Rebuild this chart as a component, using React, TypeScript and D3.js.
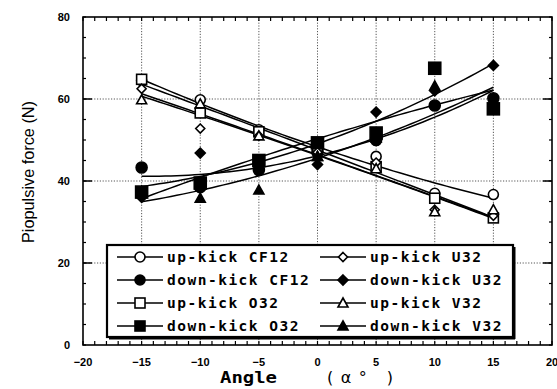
import React from "react";
import * as d3 from "d3";

// Kick angle (deg) and measured propulsive force (N) for each fin / kick direction
const angles = [-15, -10, -5, 0, 5, 10, 15];
const upKickCF12 = [64.5, 59.8, 52.5, 48, 46, 37, 36.7];
const upKickU32 = [62.5, 52.8, 51, 47, 44.5, 33, 31.5];
const upKickO32 = [64.8, 56.6, 52, 48.5, 43.5, 35.8, 31];
const upKickV32 = [59.8, 58.8, 51, 46, 43, 32.5, 33];
const downKickCF12 = [43.3, 38.5, 42.7, 47, 50, 58.4, 60.2];
const downKickU32 = [36, 46.8, 44, 44, 56.8, 62, 68.2];
const downKickO32 = [37.3, 39.5, 45, 49.3, 51.7, 67.5, 57.6];
const downKickV32 = [37.5, 35.8, 37.8, 46, 50.5, 63.2, 58.5];

const xTicks = [-20, -15, -10, -5, 0, 5, 10, 15, 20];
const yTicks = [0, 20, 40, 60, 80];

type Marker = "circle" | "diamond" | "square" | "triangle";
interface Series {
  name: string;
  values: number[];
  marker: Marker;
  filled: boolean;
  size: number;
}

const series: Series[] = [
  { name: "up-kick CF12", values: upKickCF12, marker: "circle", filled: false, size: 10 },
  { name: "down-kick CF12", values: downKickCF12, marker: "circle", filled: true, size: 11 },
  { name: "up-kick O32", values: upKickO32, marker: "square", filled: false, size: 10 },
  { name: "down-kick O32", values: downKickO32, marker: "square", filled: true, size: 12 },
  { name: "up-kick U32", values: upKickU32, marker: "diamond", filled: false, size: 9 },
  { name: "down-kick U32", values: downKickU32, marker: "diamond", filled: true, size: 10 },
  { name: "up-kick V32", values: upKickV32, marker: "triangle", filled: false, size: 10 },
  { name: "down-kick V32", values: downKickV32, marker: "triangle", filled: true, size: 10 },
];

// Legend order: two columns, four rows
const legendLeft = ["up-kick CF12", "down-kick CF12", "up-kick O32", "down-kick O32"];
const legendRight = ["up-kick U32", "down-kick U32", "up-kick V32", "down-kick V32"];

const W = 557;
const H = 389;
const x = d3.scaleLinear().domain([-20, 20]).range([83, 552]);
const y = d3.scaleLinear().domain([0, 80]).range([345, 17]);

// Second-order least-squares fit y = a + b x + c x^2
function quadFit(xs: number[], ys: number[]) {
  const n = xs.length;
  let s1 = 0, s2 = 0, s3 = 0, s4 = 0, t0 = 0, t1 = 0, t2 = 0;
  for (let i = 0; i < n; i++) {
    const xi = xs[i], yi = ys[i];
    s1 += xi; s2 += xi * xi; s3 += xi ** 3; s4 += xi ** 4;
    t0 += yi; t1 += xi * yi; t2 += xi * xi * yi;
  }
  const M = [
    [n, s1, s2, t0],
    [s1, s2, s3, t1],
    [s2, s3, s4, t2],
  ];
  for (let c = 0; c < 3; c++) {
    let p = c;
    for (let r = c + 1; r < 3; r++) if (Math.abs(M[r][c]) > Math.abs(M[p][c])) p = r;
    [M[c], M[p]] = [M[p], M[c]];
    for (let r = 0; r < 3; r++) {
      if (r === c) continue;
      const f = M[r][c] / M[c][c];
      for (let k = c; k < 4; k++) M[r][k] -= f * M[c][k];
    }
  }
  const a = M[0][3] / M[0][0], b = M[1][3] / M[1][1], c2 = M[2][3] / M[2][2];
  return (v: number) => a + b * v + c2 * v * v;
}

const fitLine = d3
  .line<number>()
  .x((v) => x(v))
  .curve(d3.curveLinear);

function MarkerShape({ m, cx, cy }: { m: Series; cx: number; cy: number }) {
  const s = m.size;
  const fill = m.filled ? "#000" : "#fff";
  const common = { fill, stroke: "#000", strokeWidth: 1.6 };
  if (m.marker === "circle") return <circle cx={cx} cy={cy} r={s / 2} {...common} />;
  if (m.marker === "square")
    return <rect x={cx - s / 2} y={cy - s / 2} width={s} height={s} {...common} />;
  if (m.marker === "diamond") {
    const h = s / 2;
    return <path d={`M${cx},${cy - h}L${cx + h},${cy}L${cx},${cy + h}L${cx - h},${cy}Z`} {...common} />;
  }
  const h = s / 2;
  return <path d={`M${cx},${cy - h}L${cx + h},${cy + h * 0.8}L${cx - h},${cy + h * 0.8}Z`} {...common} />;
}

export default function App() {
  const samples = d3.range(-15, 15.001, 0.5);
  const minorX = d3.range(-20, 20.001, 1);
  const minorY = d3.range(0, 80.001, 5);
  const gridX = [-15, -10, -5, 0, 5, 10, 15];
  const gridY = [20, 40, 60];
  const byName = (n: string) => series.find((s) => s.name === n)!;

  const rowY = [257, 280, 303, 326];
  const legendFont: React.CSSProperties = {
    fontFamily: "DejaVu Sans Mono, monospace",
    fontSize: 14.5,
    fontWeight: 700,
    letterSpacing: 1.5,
  };

  return (
    <svg width={W} height={H} style={{ position: "absolute", left: 0, top: 0, background: "#fff" }}>
      <rect width={W} height={H} fill="#fff" />
      {/* dotted grid */}
      <g stroke="#444" strokeWidth={0.9} strokeDasharray="1.2,1.6">
        {gridX.map((v) => (
          <line key={"gx" + v} x1={x(v)} x2={x(v)} y1={y(80)} y2={y(0)} />
        ))}
        {gridY.map((v) => (
          <line key={"gy" + v} x1={x(-20)} x2={x(20)} y1={y(v)} y2={y(v)} />
        ))}
      </g>
      {/* minor ticks on all four sides */}
      <g stroke="#000" strokeWidth={1.2}>
        {minorX.map((v) => (
          <g key={"tx" + v}>
            <line x1={x(v)} x2={x(v)} y1={y(0)} y2={y(0) - 4} />
            <line x1={x(v)} x2={x(v)} y1={y(80)} y2={y(80) + 4} />
          </g>
        ))}
        {minorY.map((v) => (
          <g key={"ty" + v}>
            <line x1={x(-20)} x2={x(-20) + 3} y1={y(v)} y2={y(v)} />
            <line x1={x(20)} x2={x(20) - 3} y1={y(v)} y2={y(v)} />
          </g>
        ))}
        {gridY.map((v) => (
          <g key={"my" + v}>
            <line x1={x(-20)} x2={x(-20) + 9} y1={y(v)} y2={y(v)} strokeWidth={1.5} />
            <line x1={x(20)} x2={x(20) - 9} y1={y(v)} y2={y(v)} strokeWidth={1.5} />
          </g>
        ))}
      </g>
      {/* frame */}
      <rect
        x={x(-20)}
        y={y(80)}
        width={x(20) - x(-20)}
        height={y(0) - y(80)}
        fill="none"
        stroke="#000"
        strokeWidth={1.6}
      />
      {/* fitted curves */}
      <g fill="none" stroke="#000" strokeWidth={1.5}>
        {series.map((s) => {
          const f = quadFit(angles, s.values);
          const path = fitLine.y((v) => y(f(v)))(samples) || "";
          return <path key={"fit" + s.name} d={path} />;
        })}
      </g>
      {/* data points */}
      <g>
        {series.map((s) =>
          s.values.map((v, i) => (
            <MarkerShape key={s.name + i} m={s} cx={x(angles[i])} cy={y(v)} />
          ))
        )}
      </g>
      {/* tick labels */}
      <g style={{ fontFamily: "Liberation Sans, Arial, sans-serif", fontSize: 11, fontWeight: 700 }}>
        {yTicks.map((v) => (
          <text key={"yl" + v} x={70} y={y(v) + 4} textAnchor="end">
            {v}
          </text>
        ))}
        {xTicks.map((v) => (
          <text key={"xl" + v} x={x(v)} y={366} textAnchor="middle">
            {v < 0 ? "\u2212" + Math.abs(v) : v}
          </text>
        ))}
      </g>
      {/* axis titles */}
      <text
        x={0}
        y={0}
        transform="translate(34,172) rotate(-90)"
        textAnchor="middle"
        style={{ fontFamily: "Liberation Sans, Arial, sans-serif", fontSize: 16 }}
        textLength={142}
        lengthAdjust="spacingAndGlyphs"
      >
        Piopulsive force  (N)
      </text>
      <text
        x={220}
        y={383}
        style={{ fontFamily: "DejaVu Sans Mono, monospace", fontSize: 16, fontWeight: 700 }}
        textLength={57}
        lengthAdjust="spacingAndGlyphs"
      >
        Angle
      </text>
      <text
        x={327}
        y={383}
        style={{ fontFamily: "DejaVu Sans, sans-serif", fontSize: 16 }}
        textLength={66}
        lengthAdjust="spacing"
      >
        (α° )
      </text>
      {/* legend */}
      <g>
        <rect x={107} y={245} width={406} height={92} fill="#fff" stroke="#000" strokeWidth={2.2} />
        <line x1={109} x2={515} y1={338} y2={338} stroke="#000" strokeWidth={3} />
        <line x1={514} x2={514} y1={247} y2={339} stroke="#000" strokeWidth={3} />
        {[legendLeft, legendRight].map((col, ci) =>
          col.map((name, ri) => {
            const s = byName(name);
            const x0 = ci === 0 ? 117 : 320;
            const cy = rowY[ri];
            return (
              <g key={name}>
                <line x1={x0} x2={x0 + 46} y1={cy} y2={cy} stroke="#000" strokeWidth={1.5} />
                <MarkerShape m={{ ...s, size: Math.min(s.size, 10) }} cx={x0 + 23} cy={cy} />
                <text x={x0 + 50} y={cy + 5} style={legendFont}>
                  {name}
                </text>
              </g>
            );
          })
        )}
      </g>
    </svg>
  );
}
